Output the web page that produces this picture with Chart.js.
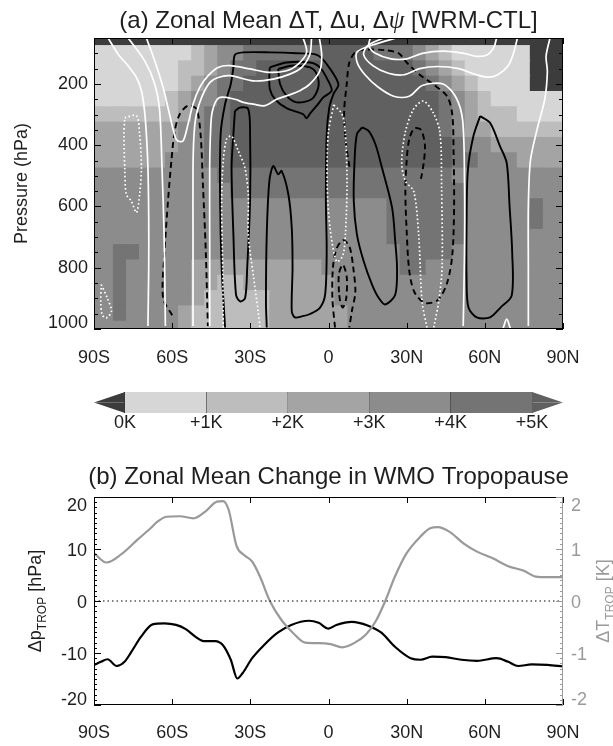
<!DOCTYPE html>
<html>
<head>
<meta charset="utf-8">
<script src="https://cdn.jsdelivr.net/npm/chart.js@4.4.1/dist/chart.umd.min.js"></script>
<style>
html, body { margin: 0; padding: 0; background: #fff; }
#page { position: relative; width: 613px; height: 746px; overflow: hidden; }
#page canvas { position: absolute; left: 0; }
</style>
</head>
<body>
<div id="page">
  <canvas id="fieldChart" width="613" height="370" style="top:0px"></canvas>
  <canvas id="barChart" width="613" height="50" style="top:385px"></canvas>
  <canvas id="tropChart" width="613" height="306" style="top:440px"></canvas>
</div>
<script>
// ---------- panel (a): zonal mean dT shading on a 5 deg x 50 hPa grid ----------
const gridLat = [-90,-85,-80,-75,-70,-65,-60,-55,-50,-45,-40,-35,-30,-25,-20,-15,-10,-5,
  0,5,10,15,20,25,30,35,40,45,50,55,60,65,70,75,80,85,90];
const gridP = [50,100,150,200,250,300,350,400,450,500,550,600,650,700,750,800,850,900,950,1000];
// one digit per cell = colour bin (0: <0K, 1: 0-1K ... 5: 4-5K, 6: >5K); groups of 30 deg
const dTBins = [
  '000000 000000 000000 000000 000000 000000 0',
  '111111 112344 555555 666655 543211 111100 0',
  '111111 122345 566666 666666 654321 111100 0',
  '111111 123455 666666 666666 665432 111100 0',
  '111111 234456 666666 666666 666543 211111 1',
  '222222 234556 666666 666666 666543 222111 1',
  '333333 344556 666666 666666 666543 322222 2',
  '333333 344556 666666 666666 666654 433333 3',
  '333333 444556 666666 666666 666655 444333 3',
  '444444 444455 555555 555555 555544 444444 4',
  '444444 444445 555555 555555 555554 444444 4',
  '444444 444444 444444 444445 555554 444454 4',
  '444444 444444 444444 444445 555554 444454 4',
  '444444 444444 444444 444445 555554 444444 4',
  '445544 444444 444444 444444 555544 444444 4',
  '445444 443333 333333 444444 554444 444444 4',
  '445444 443322 333333 344444 444444 444444 4',
  '445444 443222 223333 344444 444444 444444 4',
  '445444 432222 223333 334444 444444 444444 4',
  '444444 432222 223333 334444 444444 444444 4'
];
const binColors = ['#3c3c3c','#d6d6d6','#bdbdbd','#a4a4a4','#8c8c8c','#747474','#606060'];
const binEdges = [0,1,2,3,4,5];
const binLabels = ['0K','+1K','+2K','+3K','+4K','+5K'];

// contours as [lat, hPa]
// du > 0 (white solid)
const duPos = [
  [[-84.6,50],[-80.8,102],[-77,140],[-73.7,179],[-71.8,222],[-70.6,288],[-69.9,364],[-69.3,473],[-69,637],[-69,800],[-69.3,990]],
  [[-76.9,50],[-70.6,124],[-66.7,200],[-64.8,288],[-63.9,473],[-63.1,691],[-62.6,990]],
  [[-69.9,50],[-66.7,124],[-63.5,211],[-61,299],[-58.8,375],[-57.8,386],[-55.8,386],[-53.9,331],[-52,266],[-49.4,211],
   [-46.2,173],[-42.4,146],[-37.8,140],[-30.1,151],[-23.1,162],[-16.1,157],[-11.6,135],[-8.4,97],[-9.7,50]],
  [[-52,990],[-52,691],[-52,473],[-51.6,364],[-50.7,299],[-48.5,240],[-45.5,195],[-42.4,179],[-37.8,173],[-28.9,190],
   [-21.2,184],[-14.8,168],[-10.3,146],[-7.1,102],[-6.5,50]],
  [[-45.6,990],[-45.6,691],[-45.6,473],[-45.3,364],[-44.6,290],[-42,245],[-35.9,250],[-32.7,260],[-28.8,266],[-24.4,271],
   [-19.9,250],[-16.1,239],[-11,222],[-7.1,200],[-3.3,157],[-2.6,105],[-3.5,50]],
  [[26,50],[18,70],[11,95],[11,130],[14,170],[19,210],[25,240],[31,240],[36,205],[44,200],[49,245],[51.5,320],
   [52.2,520],[52.2,750],[51.7,990]],
  [[21,50],[15,75],[13.5,105],[17,140],[23,165],[29,170],[35,150],[42,143],[50,150],[56,168],[61,178],[65,170],
   [69,140],[71,100],[72.5,50]],
  [[16,50],[15.5,75],[18,100],[24,118],[30,118],[36,100],[44,93],[52,100],[57,110],[61,105],[63.5,80],[64.5,50]],
  [[85,50],[83.5,110],[84,160],[83,250],[80,350],[77.5,450],[76.7,600],[76.7,800],[76.7,990]],
  [[67,998],[68.4,968],[69.8,998]]
];
// du < 0 (white dotted)
const duNeg = [
  [[-87.2,855],[-84.9,899],[-83.3,942],[-85.3,964],[-86.9,953],[-87.4,910],[-87.2,855]],
  [[-78.2,310],[-73.7,304],[-72.5,364],[-71.8,473],[-72.5,561],[-73.7,620],[-75.7,582],[-77.6,561],[-78.2,473],
   [-78.5,364],[-78.2,310]],
  [[-40.4,995],[-40.6,800],[-41,582],[-40.4,451],[-39.1,380],[-37.2,370],[-34.6,419],[-32.1,473],[-30.8,561],
   [-30.8,691],[-28.9,822],[-27,942],[-26.3,995]],
  [[2,268],[-0.1,364],[-0.5,528],[0.6,670],[3.1,780],[5.5,760],[6.5,690],[7.1,528],[6.5,364],[5.2,299],[2,268]],
  [[37.8,995],[35.9,910],[34.6,691],[32.7,550],[29.5,517],[28.1,458],[29.4,360],[32.6,283],[36.4,256],[40.2,294],
   [42.8,360],[43.4,534],[43.6,800],[42.3,910],[40.4,995]]
];
// dpsi > 0 (black solid)
const psiPos = [
  [[-39.7,995],[-41,800],[-41.6,582],[-41.4,364],[-39.7,266],[-37.5,200],[-36.5,146],[-35.9,105],[-32.7,97],[-22.5,97],
   [-12.2,100],[-4.5,105],[-0.7,135],[3.8,200],[1.9,233],[0.3,277],[-0.7,364],[-1,582],[-0.7,746],[-1.3,888],
   [-3.3,931],[-7.1,951],[-10.3,959],[-12.9,962],[-14.1,942],[-13.8,800],[-14.1,670],[-15.4,561],[-18,484],
   [-19.3,495],[-21.2,468],[-22.7,517],[-23.7,691],[-24,910],[-23.7,995]],
  [[-35.9,288],[-33.9,277],[-30.8,282],[-30.1,364],[-30.1,582],[-31.2,800],[-32,899],[-33.9,910],[-35.5,888],
   [-36.5,691],[-37.2,473],[-36.5,364],[-35.9,288]],
  [[-22.5,146],[-16.1,130],[-7.1,130],[-3.3,146],[-0.1,190],[1.2,222],[-2,244],[-4.5,271],[-7.1,297],[-8.4,312],
   [-9.7,299],[-16.1,279],[-20.5,250],[-22.5,217],[-22.7,173],[-22.5,146]],
  [[-19.3,151],[-13.5,140],[-7.1,146],[-4.5,168],[-3.9,211],[-6.5,250],[-12.2,260],[-16.1,239],[-18.6,200],[-19.3,151]],
  [[12.9,342],[15.4,353],[18,397],[20.5,473],[24.4,604],[25.6,713],[26.3,800],[25.6,888],[21.8,920],[19.3,899],
   [16.7,855],[13.5,779],[10.9,691],[9.7,582],[10,451],[10.9,364],[12.9,342]],
  [[58.2,305],[62,327],[65.8,403],[68.4,458],[69.5,600],[70.5,750],[70.3,891],[66,930],[62,962],[56.9,962],
   [53.7,929],[53,840],[53,650],[53.5,480],[55.6,371],[58.2,305]]
];
// dpsi < 0 (black dashed)
const psiNeg = [
  [[-60,955],[-63.5,899],[-62.9,746],[-61.6,582],[-60.3,451],[-59,353],[-57.1,299],[-53.9,271],[-50.7,282],
   [-49.1,364],[-48.2,528],[-47.1,746],[-46.3,990]],
  [[8,470],[6.5,380],[6,290],[7,200],[8,130],[10.5,95],[15,88],[22,90],[27,100],[30,130],[35,170],[40,200],
   [45.5,240],[47.5,300],[48,420],[48.2,600],[47.5,760],[45.5,850],[42,905],[37,915],[33,880],[31,810],[30,680],
   [29.5,550],[30,450],[31,380],[33,345],[35.5,350],[37,400],[36.5,460],[35.5,510]],
  [[2.5,995],[1.5,900],[1.7,800],[3,740],[5.5,710],[8,730],[9.5,800],[10.3,880],[9,940],[8,995]],
  [[4,880],[4,820],[5.5,790],[7,830],[6.8,900],[5.5,930],[4.5,910],[4,880]]
];

// axes
const latTicks = [-90,-60,-30,0,30,60,90];
const latLabels = ['90S','60S','30S','0','30N','60N','90N'];
const pTicks = [200,400,600,800,1000];

// ---------- panel (b): tropopause change ----------
const dpLat = [-90,-87.3,-84.8,-81.3,-78.3,-75.8,-72,-67.5,-63,-58.5,-54.8,-51,-48,-43.5,-40.5,-37.5,-35,-33,
  -29.3,-24.8,-19.5,-14.3,-7.5,-3.8,0,3,9,15,20.3,25.5,31.5,35.3,39.8,45,51,57,64.5,69,72.8,78,84,90];
const dpVal = [-12.3,-11.7,-11.2,-12.5,-11.7,-9.9,-6.9,-4.5,-4.3,-4.6,-5.4,-6.9,-7.7,-7.7,-8.5,-11.3,-14.9,-13.9,
  -11,-8.5,-6.1,-4.6,-3.8,-4.2,-5.3,-4.6,-4,-4.7,-6.1,-8.8,-11,-11.3,-10.7,-10.8,-11.3,-11.5,-11,-11.7,-12.5,-12.2,-12.3,-12.6];
const dtLat = [-90,-85.2,-79.5,-73.5,-68.3,-66,-62.3,-57,-51.8,-47.3,-42.8,-40.5,-38.3,-35.3,-32.3,-29.3,-26.3,
  -22.5,-18,-13.5,-9,-3.8,0.8,5.3,9.8,14.3,18,21.8,25.5,30,35.3,39,42,46.5,51.8,57,63,69,75,79.5,84,90];
const dtVal = [0.92,0.74,0.90,1.17,1.40,1.51,1.62,1.63,1.59,1.72,1.91,1.92,1.75,1.06,0.88,0.76,0.47,0,-0.37,-0.62,
  -0.80,-0.81,-0.83,-0.89,-0.81,-0.65,-0.40,0,0.47,0.92,1.24,1.40,1.42,1.33,1.11,0.95,0.82,0.67,0.58,0.47,0.46,0.46];
const dpTicks = [20,10,0,-10,-20];
const dtTicks = [2,1,0,-1,-2];

// ---------- drawing helpers ----------
const FONT = '"Liberation Sans", Arial, Helvetica, sans-serif';
const INK = '#1e1e1e';
const GREY = '#9a9a9a';

function text(ctx, str, x, y, size, color, align) {
  ctx.save();
  ctx.font = size + 'px ' + FONT;
  ctx.fillStyle = color;
  ctx.textAlign = align || 'center';
  ctx.textBaseline = 'middle';
  ctx.fillText(str, x, y);
  ctx.restore();
}

// runs of text centred on (x, y); rotate = reads bottom to top
function richText(ctx, runs, x, y, size, color, rotate) {
  ctx.save();
  ctx.translate(x, y);
  if (rotate) ctx.rotate(-Math.PI / 2);
  ctx.fillStyle = color;
  ctx.textAlign = 'left';
  ctx.textBaseline = 'alphabetic';
  let total = 0;
  runs.forEach(r => { ctx.font = r.font; r.w = ctx.measureText(r.t).width; total += r.w; });
  let cx = -total / 2;
  const base = size * 0.36;
  runs.forEach(r => { ctx.font = r.font; ctx.fillText(r.t, cx, base + (r.dy || 0)); cx += r.w; });
  ctx.restore();
}

// inward tick marks
function tickMarks(chart, axis, values, len, side, color) {
  const {ctx, chartArea: a} = chart;
  const s = chart.scales[axis];
  ctx.save();
  ctx.strokeStyle = color;
  ctx.lineWidth = 1;
  ctx.beginPath();
  values.forEach(v => {
    const p = Math.round(s.getPixelForValue(v)) + 0.5;
    if (s.isHorizontal()) {
      ctx.moveTo(p, a.top); ctx.lineTo(p, a.top + len);
      ctx.moveTo(p, a.bottom); ctx.lineTo(p, a.bottom - len);
    } else if (side === 'left') {
      ctx.moveTo(a.left, p); ctx.lineTo(a.left + len, p);
    } else {
      ctx.moveTo(a.right, p); ctx.lineTo(a.right - len, p);
    }
  });
  ctx.stroke();
  ctx.restore();
}

function contourSets(lines, style) {
  return lines.map(pts => Object.assign({
    type: 'line',
    data: pts.map(([lat, p]) => ({x: lat, y: p})),
    pointRadius: 0,
    fill: false,
    tension: 0.3,
    order: 0
  }, style));
}

// ---------- panel (a) ----------
const cells = [];
gridP.forEach((p, r) => {
  const row = dTBins[r].replace(/ /g, '');
  gridLat.forEach((lat, c) => {
    cells.push({x: lat, y: [p - 25, p + 25], bin: +row[c]});
  });
});

const pMinor = [];
for (let p = 100; p < 1000; p += 50) if (p % 200) pMinor.push(p);

const fieldDecor = {
  id: 'fieldDecor',
  afterDraw(chart) {
    const {ctx, chartArea: a} = chart;
    const xs = chart.scales.x, ys = chart.scales.y;
    ctx.save();
    ctx.strokeStyle = '#000';
    ctx.lineWidth = 1;
    ctx.strokeRect(a.left + 0.5, a.top + 0.5, a.width - 1, a.height - 1);
    ctx.restore();
    tickMarks(chart, 'x', latTicks, 6, null, '#000');
    ['left', 'right'].forEach(side => {
      tickMarks(chart, 'y', pMinor, 4, side, '#000');
      tickMarks(chart, 'y', pTicks, 7, side, '#000');
    });
    pTicks.forEach(v => text(ctx, String(v), 88, Math.min(ys.getPixelForValue(v), a.bottom - 6), 18, INK, 'right'));
    latTicks.forEach((v, i) => text(ctx, latLabels[i], xs.getPixelForValue(v), 358, 18, INK));
    const f = '24px ' + FONT;
    richText(ctx, [
      {t: '(a) Zonal Mean \u0394T, \u0394u, \u0394', font: f},
      {t: '\u03c8', font: 'italic 25px "Liberation Serif", serif'},
      {t: ' [WRM-CTL]', font: f}
    ], (a.left + a.right) / 2, 19, 24, INK);
    richText(ctx, [{t: 'Pressure (hPa)', font: '18px ' + FONT}], 21, (a.top + a.bottom) / 2, 18, INK, true);
  }
};

new Chart(document.getElementById('fieldChart'), {
  type: 'bar',
  data: {
    datasets: [
      {
        type: 'bar',
        data: cells,
        backgroundColor: c => binColors[c.raw ? c.raw.bin : 0],
        borderWidth: 0,
        barPercentage: 1,
        categoryPercentage: 1,
        grouped: false,
        inflateAmount: 0.6,
        clip: 0,
        order: 10
      },
      ...contourSets(duPos, {borderColor: '#ffffff', borderWidth: 1.7}),
      ...contourSets(duNeg, {borderColor: '#ffffff', borderWidth: 1.7, borderDash: [1.6, 2.4]}),
      ...contourSets(psiPos, {borderColor: '#000000', borderWidth: 1.9}),
      ...contourSets(psiNeg, {borderColor: '#000000', borderWidth: 1.9, borderDash: [6, 4]})
    ]
  },
  options: {
    responsive: false,
    animation: false,
    events: [],
    layout: {padding: {left: 94, right: 50, top: 38, bottom: 41}},
    scales: {
      x: {type: 'linear', min: -90, max: 90, offset: false, display: false, ticks: {stepSize: 30}},
      y: {type: 'linear', min: 50, max: 1000, reverse: true, beginAtZero: false, display: false}
    },
    plugins: {legend: {display: false}, tooltip: {enabled: false}}
  },
  plugins: [fieldDecor]
});

// ---------- colour bar ----------
const cbMin = -0.38, cbMax = 5.38;
const cbSets = [];
binEdges.slice(0, -1).forEach((e, i) => {
  cbSets.push({data: [{x: e, y: 1}, {x: binEdges[i + 1], y: 1}], fill: 'origin',
    backgroundColor: binColors[i + 1], borderWidth: 0, pointRadius: 0});
});
[0, 1].forEach(edge => {
  cbSets.push({data: [{x: cbMin, y: 0.5}, {x: binEdges[0], y: edge}], fill: {value: 0.5},
    backgroundColor: binColors[0], borderWidth: 0, pointRadius: 0});
  cbSets.push({data: [{x: binEdges[5], y: edge}, {x: cbMax, y: 0.5}], fill: {value: 0.5},
    backgroundColor: binColors[6], borderWidth: 0, pointRadius: 0});
});
cbSets.push({data: [{x: 0, y: 0}, {x: 5, y: 0}, {x: 5, y: 1}, {x: 0, y: 1}, {x: 0, y: 0}],
  borderColor: '#000', borderWidth: 1, pointRadius: 0, fill: false});
binEdges.slice(1, -1).forEach(e => {
  cbSets.push({data: [{x: e, y: 0}, {x: e, y: 1}], borderColor: '#000', borderWidth: 1, pointRadius: 0, fill: false});
});

const barDecor = {
  id: 'barDecor',
  afterDraw(chart) {
    const {ctx, chartArea: a} = chart;
    binEdges.forEach((e, i) => text(ctx, binLabels[i], chart.scales.x.getPixelForValue(e), a.bottom + 10, 18, INK));
  }
};

new Chart(document.getElementById('barChart'), {
  type: 'line',
  data: {datasets: cbSets},
  options: {
    responsive: false,
    animation: false,
    events: [],
    layout: {padding: {left: 94, right: 50, top: 7, bottom: 22}},
    scales: {
      x: {type: 'linear', min: cbMin, max: cbMax, display: false},
      y: {type: 'linear', min: 0, max: 1, display: false}
    },
    plugins: {legend: {display: false}, tooltip: {enabled: false}}
  },
  plugins: [barDecor]
});

// ---------- panel (b) ----------
const dpMinor = [], dtMinor = [];
for (let v = -20; v <= 20; v += 1) dpMinor.push(v);
for (let v = -20; v <= 20; v += 1) dtMinor.push(v / 10);

const tropDecor = {
  id: 'tropDecor',
  afterDraw(chart) {
    const {ctx, chartArea: a} = chart;
    const xs = chart.scales.x, yl = chart.scales.y, yr = chart.scales.y1;
    ctx.save();
    ctx.lineWidth = 1;
    ctx.strokeStyle = '#000';
    ctx.beginPath();
    ctx.moveTo(a.right, a.top + 0.5); ctx.lineTo(a.left + 0.5, a.top + 0.5);
    ctx.lineTo(a.left + 0.5, a.bottom - 0.5); ctx.lineTo(a.right, a.bottom - 0.5);
    ctx.stroke();
    ctx.strokeStyle = GREY;
    ctx.beginPath();
    ctx.moveTo(a.right - 0.5, a.top); ctx.lineTo(a.right - 0.5, a.bottom);
    ctx.stroke();
    ctx.restore();
    tickMarks(chart, 'x', latTicks, 6, null, '#000');
    tickMarks(chart, 'y', dpMinor, 3, 'left', '#000');
    tickMarks(chart, 'y', dpTicks, 7, 'left', '#000');
    tickMarks(chart, 'y1', dtMinor, 3, 'right', GREY);
    tickMarks(chart, 'y1', dtTicks, 7, 'right', GREY);
    const clampY = y => Math.max(a.top + 9, Math.min(a.bottom - 5, y + 2));
    dpTicks.forEach(v => text(ctx, String(v), 87, clampY(yl.getPixelForValue(v)), 18, INK, 'right'));
    dtTicks.forEach(v => text(ctx, String(v), 571, clampY(yr.getPixelForValue(v)), 18, GREY, 'left'));
    latTicks.forEach((v, i) => text(ctx, latLabels[i], xs.getPixelForValue(v), 293, 18, INK));
    richText(ctx, [{t: '(b) Zonal Mean Change in WMO Tropopause', font: '24px ' + FONT}],
      (a.left + a.right) / 2, 35, 24, INK);
    const big = '18px ' + FONT, small = '12px ' + FONT;
    const mid = (a.top + a.bottom) / 2;
    richText(ctx, [{t: '\u0394p', font: big}, {t: 'TROP', font: small, dy: 5}, {t: ' [hPa]', font: big}],
      35, mid, 18, INK, true);
    richText(ctx, [{t: '\u0394T', font: big}, {t: 'TROP', font: small, dy: 5}, {t: ' [K]', font: big}],
      603, mid, 18, GREY, true);
  }
};

new Chart(document.getElementById('tropChart'), {
  type: 'line',
  data: {
    datasets: [
      {
        data: [{x: -90, y: 0}, {x: 90, y: 0}],
        borderColor: '#000', borderWidth: 1, borderDash: [1.5, 3], pointRadius: 0, yAxisID: 'y'
      },
      {
        data: dtLat.map((lat, i) => ({x: lat, y: dtVal[i]})),
        borderColor: '#999999', borderWidth: 2.2, pointRadius: 0,
        cubicInterpolationMode: 'monotone', yAxisID: 'y1'
      },
      {
        data: dpLat.map((lat, i) => ({x: lat, y: dpVal[i]})),
        borderColor: '#000000', borderWidth: 2.2, pointRadius: 0,
        cubicInterpolationMode: 'monotone', yAxisID: 'y'
      }
    ]
  },
  options: {
    responsive: false,
    animation: false,
    events: [],
    layout: {padding: {left: 94, right: 50, top: 57, bottom: 41}},
    scales: {
      x: {type: 'linear', min: -90, max: 90, display: false},
      y: {type: 'linear', min: -20, max: 20, display: false},
      y1: {type: 'linear', position: 'right', min: -2, max: 2, display: false}
    },
    plugins: {legend: {display: false}, tooltip: {enabled: false}}
  },
  plugins: [tropDecor]
});
</script>
</body>
</html>
